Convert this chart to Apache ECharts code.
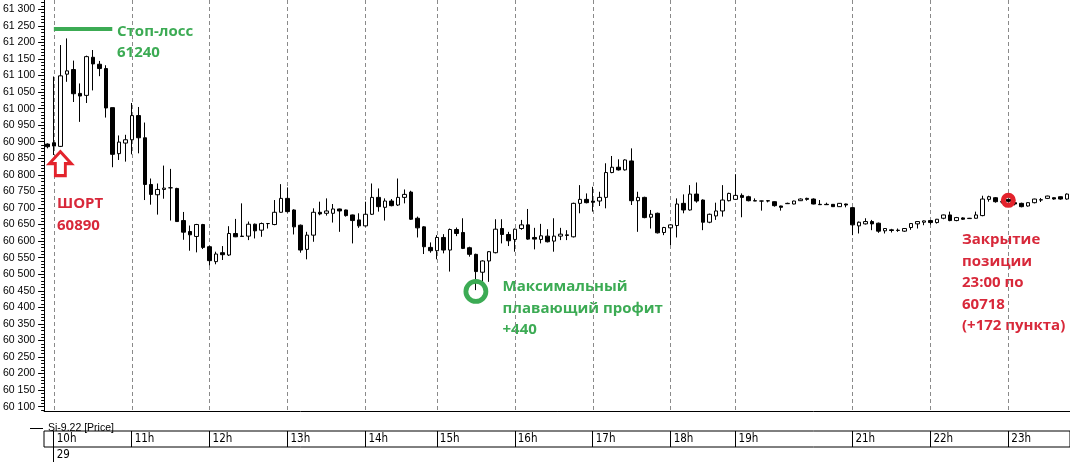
<!DOCTYPE html>
<html><head><meta charset="utf-8">
<script src="https://cdn.jsdelivr.net/npm/echarts@6/dist/echarts.min.js"></script>
<style>html,body{margin:0;padding:0;background:#fff;overflow:hidden}#c{width:1070px;height:462px}</style>
</head><body><div id="c"></div>
<script>
// ---- data ----
const seriesName = 'Si-9.22 [Price]';
const sessions = [['23:45',1],['10:00',48],['14:05',11],['15:00',36],['18:00',10],['19:05',18],['21:00',34]];
const categories = [];
sessions.forEach(([t, n]) => {
  let [h, m] = t.split(':').map(Number);
  for (let k = 0; k < n; k++) {
    categories.push(String(h).padStart(2,'0') + ':' + String(m).padStart(2,'0'));
    m += 5; if (m >= 60) { m -= 60; h += 1; }
  }
});
const opens = [60893,60897,60886,61104,61118,61046,61040,61155,61134,61121,
61003,60864,60896,60906,60979,60912,60771,60740,60756,60761,
60759,60662,60629,60614,60650,60583,60538,60565,60558,60623,
60615,60615,60651,60633,60653,60650,60687,60729,60694,60648,
60575,60618,60687,60684,60684,60697,60694,60679,60664,60646,
60681,60732,60702,60721,60709,60732,60748,60669,60643,60581,
60571,60611,60573,60635,60626,60580,60560,60506,60540,60565,
60638,60620,60605,60638,60649,60611,60605,60615,60600,60615,
60617,60613,60714,60726,60721,60721,60732,60807,60823,60815,
60842,60722,60732,60672,60684,60626,60640,60647,60714,60694,
60742,60724,60657,60676,60691,60722,60726,60738,60734,60722,
60721,60722,60719,60706,60713,60712,60722,60729,60727,60711,
60711,60711,60704,60712,60701,60646,60652,60659,60654,60631,
60634,60632,60630,60641,60652,60657,60662,60656,60669,60679,
60662,60670,60668,60669,60677,60726,60731,60719,60726,60716,
60714,60706,60716,60724,60729,60731,60734,60727];
const closes = [60885,60887,61099,61114,61045,61038,61157,61135,61121,61002,
60862,60899,60906,60979,60912,60771,60741,60756,60760,60761,
60659,60627,60619,60650,60581,60541,60561,60559,60623,60613,
60614,60651,60631,60653,60653,60687,60729,60689,60643,60573,
60618,60687,60682,60691,60697,60691,60677,60662,60646,60681,
60732,60704,60721,60707,60732,60741,60666,60640,60583,60571,
60611,60573,60635,60623,60578,60560,60508,60540,60568,60636,
60620,60601,60636,60649,60606,60606,60616,60598,60615,60621,
60619,60714,60726,60716,60717,60732,60807,60823,60815,60845,
60722,60732,60671,60681,60625,60641,60649,60712,60694,60742,
60721,60657,60681,60691,60724,60744,60738,60732,60722,60721,
60721,60721,60707,60702,60714,60721,60727,60726,60712,60710,
60710,60704,60714,60709,60649,60657,60659,60652,60630,60638,
60632,60633,60638,60653,60659,60661,60656,60666,60679,60662,
60671,60666,60669,60679,60727,60734,60719,60718,60720,60712,
60704,60716,60727,60725,60736,60727,60727,60742];
const lows = [60880,60860,60884,61081,61020,60960,61017,61055,61098,60973,
60823,60845,60840,60862,60865,60724,60710,60680,60728,60662,
60659,60604,60571,60566,60576,60526,60530,60543,60555,60612,
60613,60603,60608,60613,60638,60648,60686,60686,60620,60565,
60545,60598,60678,60677,60656,60628,60674,60593,60640,60644,
60679,60689,60662,60705,60706,60714,60664,60611,60561,60565,
60545,60563,60508,60615,60576,60553,60452,60472,60477,60563,
60593,60585,60568,60634,60604,60575,60593,60596,60568,60603,
60603,60611,60684,60714,60689,60706,60699,60805,60813,60813,
60709,60628,60669,60638,60623,60618,60588,60611,60684,60692,
60716,60633,60654,60664,60674,60720,60724,60672,60720,60721,
60692,60717,60704,60692,60712,60711,60721,60722,60711,60709,
60709,60703,60703,60702,60618,60623,60650,60633,60625,60623,
60626,60628,60628,60634,60638,60648,60650,60653,60666,60660,
60660,60664,60667,60668,60675,60719,60716,60714,60716,60708,
60702,60704,60714,60718,60727,60725,60725,60725];
const highs = [60895,61097,61192,61212,61145,61076,61160,61177,61144,61131,
61003,60919,60921,61017,61005,60958,60789,60774,60828,60818,
60761,60688,60647,60652,60652,60586,60568,60585,60645,60667,
60714,60659,60653,60656,60654,60724,60772,60762,60696,60650,
60628,60699,60719,60729,60712,60698,60695,60680,60684,60719,
60774,60759,60729,60727,60789,60756,60752,60674,60645,60596,
60618,60621,60638,60641,60669,60583,60562,60542,60570,60666,
60666,60628,60638,60664,60697,60640,60652,60636,60669,60640,
60633,60716,60769,60744,60764,60749,60835,60857,60847,60847,
60880,60749,60734,60694,60686,60643,60651,60729,60741,60769,
60777,60726,60683,60716,60769,60746,60802,60744,60737,60729,
60722,60724,60720,60707,60716,60722,60729,60731,60729,60724,
60716,60712,60715,60713,60703,60659,60669,60664,60656,60639,
60637,60638,60639,60654,60660,60662,60664,60667,60680,60689,
60673,60672,60670,60689,60737,60737,60733,60722,60728,60718,
60716,60717,60728,60730,60737,60732,60735,60744];

const hourTickIndex = [1,13,25,37,49,60,72,84,96,106,124,136,148];
const hourTickLabels = ['10h','11h','12h','13h','14h','15h','16h','17h','18h','19h','21h','22h','23h'];
const dateTickIndex = [1];
const dateTickLabels = ['29'];
const yTickValues = [60100,60150,60200,60250,60300,60350,60400,60450,60500,60550,60600,60650,60700,
  60750,60800,60850,60900,60950,61000,61050,61100,61150,61200,61250,61300];

// annotation values
const stopLoss = 61240, entryPrice = 60890, maxProfit = 440, exitTime = '23:00', exitPrice = 60718, exitPoints = 172;
const entryBar = 2, arrowPrice = 60834, minBar = 66, minPrice = 60448, exitBar = 148, exitMarkPrice = 60723;

// ---- chart ----
const yMinor = [];
for (let v = 60090; v <= 61320; v += 10) if (v % 50 !== 0) yMinor.push(v);
const rows = opens.map((o, i) => [o, closes[i], lows[i], highs[i]]);
const green = '#3cab54', red = '#d8283a', redMark = '#e3232c';
const txtFont = 'bold 15px "Open Sans"';
const axisFont = '"Liberation Sans", Arial, sans-serif';
const narrowFont = '"Liberation Sans Narrow", "DejaVu Sans Condensed", "Liberation Sans", sans-serif';
const isHour = (i) => hourTickIndex.indexOf(i) >= 0;
const isDate = (i) => dateTickIndex.indexOf(i) >= 0;
const fmtThousands = (v) => String(v).replace(/\B(?=(\d{3})+(?!\d))/g, ' ');

const chart = echarts.init(document.getElementById('c'));
chart.setOption({
  animation: false,
  backgroundColor: '#fff',
  legend: {
    left: 25, top: 418, itemWidth: 13, itemHeight: 1, selectedMode: false,
    textStyle: {fontSize: 10.5, fontFamily: axisFont, color: '#000'},
    data: [{name: seriesName, icon: 'rect', itemStyle: {color: '#000', borderWidth: 0}}]
  },
  grid: [
    {left: 44, right: 0, top: 0, height: 411},
    {left: 44, right: -2, top: 431, height: 16, show: true, borderColor: '#000', borderWidth: 1, backgroundColor: 'rgba(0,0,0,0)'},
    {left: 44, right: 0, top: 447, height: 20}
  ],
  xAxis: [
    {gridIndex: 0, type: 'category', data: categories,
      axisLine: {lineStyle: {color: '#000', width: 1}}, axisTick: {show: false}, axisLabel: {show: false},
      splitLine: {show: true, interval: isHour, alignWithLabel: true, lineStyle: {color: '#8a8a8a', width: 1, type: [4, 3]}}},
    {gridIndex: 1, type: 'category', data: categories,
      axisLine: {show: false}, axisTick: {show: false},
      axisLabel: {show: true, inside: true, interval: isHour, align: 'left', verticalAlign: 'middle', margin: 8,
        padding: [0, 0, 0, 3], fontSize: 11.5, fontFamily: narrowFont, color: '#000',
        formatter: (v, i) => hourTickLabels[hourTickIndex.indexOf(i)]},
      splitLine: {show: true, interval: isHour, alignWithLabel: true, lineStyle: {color: '#000', width: 1}}},
    {gridIndex: 2, type: 'category', data: categories, position: 'top',
      axisLine: {show: false}, axisTick: {show: false},
      axisLabel: {show: true, inside: true, interval: isDate, align: 'left', verticalAlign: 'middle', margin: 8,
        padding: [0, 0, 0, 3], fontSize: 11.5, fontFamily: narrowFont, color: '#000',
        formatter: (v, i) => dateTickLabels[dateTickIndex.indexOf(i)]},
      splitLine: {show: true, interval: isDate, alignWithLabel: true, lineStyle: {color: '#000', width: 1}}}
  ],
  yAxis: [
    {gridIndex: 0, type: 'value', min: 60087, max: 61328, position: 'left',
      axisLine: {show: true, lineStyle: {color: '#000'}},
      axisTick: {show: true, length: 6, customValues: yTickValues, lineStyle: {color: '#000'}},
      axisLabel: {show: true, customValues: yTickValues, margin: 9, fontSize: 10.5, fontFamily: axisFont, color: '#000', formatter: fmtThousands},
      splitLine: {show: false}},
    {gridIndex: 0, type: 'value', min: 60087, max: 61328, position: 'left',
      axisLine: {show: false}, axisTick: {show: true, length: 3, customValues: yMinor, lineStyle: {color: '#000'}},
      axisLabel: {show: false}, splitLine: {show: false}},
    {gridIndex: 1, type: 'value', show: false},
    {gridIndex: 2, type: 'value', show: false}
  ],
  series: [{
    type: 'candlestick', name: seriesName, xAxisIndex: 0, yAxisIndex: 0, data: rows, barWidth: 4,
    itemStyle: {color: '#fff', color0: '#000', borderColor: '#000', borderColor0: '#000', borderColorDoji: '#000', borderWidth: 1},
    markLine: {
      silent: true, symbol: ['none', 'none'], label: {show: false},
      lineStyle: {color: green, width: 4, type: 'solid'},
      data: [[{coord: [1.0, stopLoss]}, {coord: [9.7, stopLoss]}]]
    },
    markPoint: {
      silent: true, label: {show: false},
      data: [
        {coord: [entryBar, arrowPrice], symbol: 'path://M11 0 L22 12 L16 12 L16 24 L6 24 L6 12 L0 12 Z', symbolSize: [22, 24],
          itemStyle: {color: '#fff', borderColor: redMark, borderWidth: 3}},
        {coord: [minBar, minPrice], symbol: 'circle', symbolSize: 20,
          itemStyle: {color: 'rgba(0,0,0,0)', borderColor: green, borderWidth: 4.8}},
        {coord: [exitBar, exitMarkPrice], symbol: 'circle', symbolSize: 10,
          itemStyle: {color: 'rgba(0,0,0,0)', borderColor: redMark, borderWidth: 5}}
      ]
    }
  }],
  graphic: [
    {type: 'text', x: 117, y: 20.5, silent: true, style: {text: 'Стоп-лосс\n' + stopLoss, font: txtFont, fill: green, lineHeight: 21.5, verticalAlign: 'top'}},
    {type: 'text', x: 57, y: 193, silent: true, style: {text: 'ШОРТ\n' + entryPrice, font: txtFont, fill: red, lineHeight: 21.5, verticalAlign: 'top'}},
    {type: 'text', x: 502.5, y: 276, silent: true, style: {text: 'Максимальный\nплавающий профит\n+' + maxProfit, font: txtFont, fill: green, lineHeight: 21.5, verticalAlign: 'top'}},
    {type: 'text', x: 962, y: 229, silent: true, style: {text: 'Закрытие\nпозиции\n' + exitTime + ' по\n' + exitPrice + '\n(+' + exitPoints + ' пункта)', font: txtFont, fill: red, lineHeight: 21.5, verticalAlign: 'top'}}
  ]
});
</script></body></html>
